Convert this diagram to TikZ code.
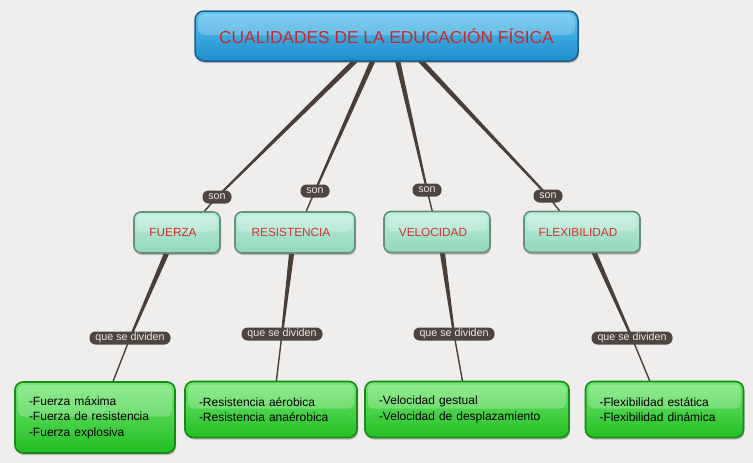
\documentclass[tikz,border=0pt]{standalone}
\usepackage{fontspec}
\setmainfont{Liberation Sans}
\usetikzlibrary{calc,shadows,backgrounds}
\definecolor{bgcol}{HTML}{EFEEEC}
\definecolor{conncol}{HTML}{4A3F38}
\definecolor{labelcol}{HTML}{4E4440}
\definecolor{labeltext}{HTML}{ECE8E4}
\definecolor{titlered}{HTML}{C8282C}
\definecolor{midred}{HTML}{D8302A}
\definecolor{bluetop}{HTML}{5EC4F0}
\definecolor{bluebot}{HTML}{1C8CCC}
\definecolor{blueborder}{HTML}{1A5F8A}
\definecolor{minttop}{HTML}{BDF0DC}
\definecolor{mintbot}{HTML}{93D6BC}
\definecolor{mintborder}{HTML}{6A8E7E}
\definecolor{greentop}{HTML}{74E874}
\definecolor{greenbot}{HTML}{22BE22}
\definecolor{greenborder}{HTML}{178A17}
\newcommand\conntaper[4]{%
  \fill[conncol] ($(#1)!#3!90:(#2)$) -- ($(#1)!#3!-90:(#2)$) -- ($(#2)!#4!90:(#1)$) -- ($(#2)!#4!-90:(#1)$) -- cycle;}
\tikzset{
  gloss/.style={path picture={\fill[white,opacity=0.22,rounded corners=#1]
      ($(path picture bounding box.north west)+(3pt,-3pt)$) rectangle ($(path picture bounding box.east)+(-3pt,1pt)$);}},
  boxshadow/.style={drop shadow={shadow xshift=1pt,shadow yshift=-2pt,opacity=0.35,fill=black!70}},
  topbox/.style={draw=blueborder, line width=1.5pt, rounded corners=9pt,
    top color=bluetop, bottom color=bluebot, minimum width=383pt, minimum height=50pt,
    text=titlered, font=\fontsize{17.3}{20}\selectfont, boxshadow, gloss=7pt},
  midbox/.style={draw=mintborder, line width=1.6pt, rounded corners=7pt,
    top color=minttop, bottom color=mintbot, minimum height=41pt, inner sep=0pt,
    text=midred, font=\fontsize{11.8}{13}\selectfont, boxshadow, gloss=5pt},
  leafbox/.style={draw=greenborder, line width=1.6pt, rounded corners=8pt,
    top color=greentop, bottom color=greenbot, inner xsep=14pt, inner ysep=0pt,
    align=left, font=\fontsize{12}{15.5}\selectfont, text=black, boxshadow, gloss=6pt},
  lbl/.style={fill=labelcol, rounded corners=6pt, text=labeltext, minimum height=13pt,
    inner xsep=5pt, inner ysep=0pt, font=\fontsize{10.7}{12}\selectfont},
  thinconn/.style={draw=conncol, line width=1.4pt}
}
\begin{document}
\begin{tikzpicture}[x=1pt,y=-1pt]
\useasboundingbox (0,0) rectangle (753,463);
% nodes
\node[topbox] (top) at (386.5,36) {CUALIDADES DE LA EDUCACIÓN FÍSICA};

\node[midbox, minimum width=86pt] (fuerza) at (177,232.5) {FUERZA\kern8pt};
\node[midbox, minimum width=120pt] (resist) at (295,232.5) {RESISTENCIA\kern8pt};
\node[midbox, minimum width=106pt] (veloc) at (437,232) {VELOCIDAD\kern8pt};
\node[midbox, minimum width=116pt] (flex) at (582,232) {FLEXIBILIDAD\kern8pt};

\node[lbl, minimum width=29pt] (son1) at (217,197) {son};
\node[lbl, minimum width=29pt] (son2) at (315,191) {son};
\node[lbl, minimum width=29pt] (son3) at (427,190) {son};
\node[lbl, minimum width=29pt] (son4) at (548,196) {son};

\node[lbl, minimum width=81pt] (div1) at (130,338) {que se dividen};
\node[lbl, minimum width=81pt] (div2) at (282,334) {que se dividen};
\node[lbl, minimum width=81pt] (div3) at (454,334) {que se dividen};
\node[lbl, minimum width=81pt] (div4) at (632,338) {que se dividen};

\node[leafbox, minimum height=71pt, text width=132pt] (hf) at (95,417.5)
  {-Fuerza máxima\\-Fuerza de resistencia\\-Fuerza explosiva};
\node[leafbox, minimum height=56pt, text width=144pt] (hr) at (271,409.5)
  {-Resistencia aérobica\\-Resistencia anaérobica};
\node[leafbox, minimum height=56pt, text width=176pt] (hv) at (467,409.5)
  {-Velocidad gestual\\-Velocidad de desplazamiento};
\node[leafbox, minimum height=56pt, text width=130pt] (hx) at (664.5,409.5)
  {-Flexibilidad estática\\-Flexibilidad dinámica};

% connector anchor points
\coordinate (t1) at (358,58);
\coordinate (t2) at (374,58);
\coordinate (t3) at (397,58);
\coordinate (t4) at (418,58);
\coordinate (e1) at (202,214);
\coordinate (e2) at (305,214);
\coordinate (e3) at (433,214);
\coordinate (e4) at (562,214);
\coordinate (b1) at (168,250);
\coordinate (b2) at (292,250);
\coordinate (b3) at (442,250);
\coordinate (b4) at (593,250);
\coordinate (f1) at (112,384);
\coordinate (f2) at (276,384);
\coordinate (f3) at (463,384);
\coordinate (f4) at (651,384);

\begin{pgfonlayer}{background}
  \fill[bgcol] (0,0) rectangle (753,463);
  \conntaper{t1}{son1.center}{2.6pt}{1.0pt}
  \conntaper{t2}{son2.center}{2.6pt}{1.0pt}
  \conntaper{t3}{son3.center}{2.6pt}{1.0pt}
  \conntaper{t4}{son4.center}{2.6pt}{1.0pt}
  \draw[thinconn] (son1.center) -- (e1);
  \draw[thinconn] (son2.center) -- (e2);
  \draw[thinconn] (son3.center) -- (e3);
  \draw[thinconn] (son4.center) -- (e4);
  \conntaper{b1}{div1.center}{2.6pt}{1.1pt}
  \conntaper{b2}{div2.center}{2.6pt}{1.1pt}
  \conntaper{b3}{div3.center}{2.6pt}{1.1pt}
  \conntaper{b4}{div4.center}{2.6pt}{1.1pt}
  \draw[thinconn] (div1.center) -- (f1);
  \draw[thinconn] (div2.center) -- (f2);
  \draw[thinconn] (div3.center) -- (f3);
  \draw[thinconn] (div4.center) -- (f4);
\end{pgfonlayer}
\end{tikzpicture}
\end{document}
